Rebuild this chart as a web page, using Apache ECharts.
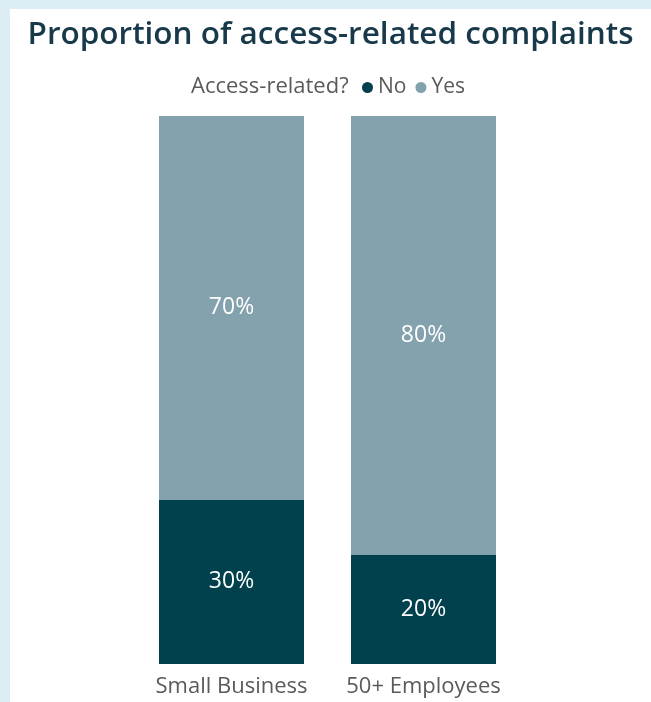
<!DOCTYPE html>
<html>
<head>
<meta charset="utf-8">
<script src="https://cdn.jsdelivr.net/npm/echarts@6/dist/echarts.min.js"></script>
<style>
  html, body { margin: 0; padding: 0; background: #dcedf5; width: 651px; height: 702px; overflow: hidden; }
  #chart { position: absolute; left: 10px; top: 9px; width: 641px; height: 693px; background: #ffffff; }
</style>
</head>
<body>
<div id="chart"></div>
<script>
// Share of complaints per business size, split by whether they were access-related
const categories = ['Small Business', '50+ Employees'];
const noValues = [30, 20];
const yesValues = [70, 80];
const seriesNames = ['No', 'Yes'];

const FONT = '"Open Sans", "Noto Sans", sans-serif';
const chart = echarts.init(document.getElementById('chart'));

chart.setOption({
  animation: false,
  title: [
    {
      text: 'Proportion of access-related complaints',
      left: 'center',
      top: 5,
      textStyle: { fontFamily: FONT, fontSize: 31.5, fontWeight: 600, color: '#17394a' }
    },
    {
      text: 'Access-related?',
      left: 176,
      top: 62,
      textStyle: { fontFamily: FONT, fontSize: 22, fontWeight: 'normal', color: '#5a5a5a' }
    }
  ],
  legend: {
    data: seriesNames,
    left: 347,
    top: 63,
    icon: 'circle',
    itemWidth: 11,
    itemHeight: 11,
    itemGap: 9,
    textStyle: { fontFamily: FONT, fontSize: 21, color: '#5a5a5a' }
  },
  grid: { left: 125.5, right: 131.5, top: 107, bottom: 38 },
  xAxis: {
    type: 'category',
    data: categories,
    axisLine: { show: false },
    axisTick: { show: false },
    axisLabel: { interval: 0, fontFamily: FONT, fontSize: 22, color: '#5a5a5a', margin: 12 }
  },
  yAxis: {
    type: 'value',
    min: 0,
    max: 100,
    show: false
  },
  series: [
    {
      name: seriesNames[0],
      type: 'bar',
      stack: 'total',
      data: noValues,
      barWidth: 145,
      itemStyle: { color: '#01404d' },
      label: { show: true, position: 'inside', formatter: '{c}%', fontFamily: FONT, fontSize: 23, color: '#ffffff' }
    },
    {
      name: seriesNames[1],
      type: 'bar',
      stack: 'total',
      data: yesValues,
      barWidth: 145,
      itemStyle: { color: '#84a2ae' },
      label: { show: true, position: 'inside', formatter: '{c}%', fontFamily: FONT, fontSize: 23, color: '#ffffff' }
    }
  ]
});
</script>
</body>
</html>
